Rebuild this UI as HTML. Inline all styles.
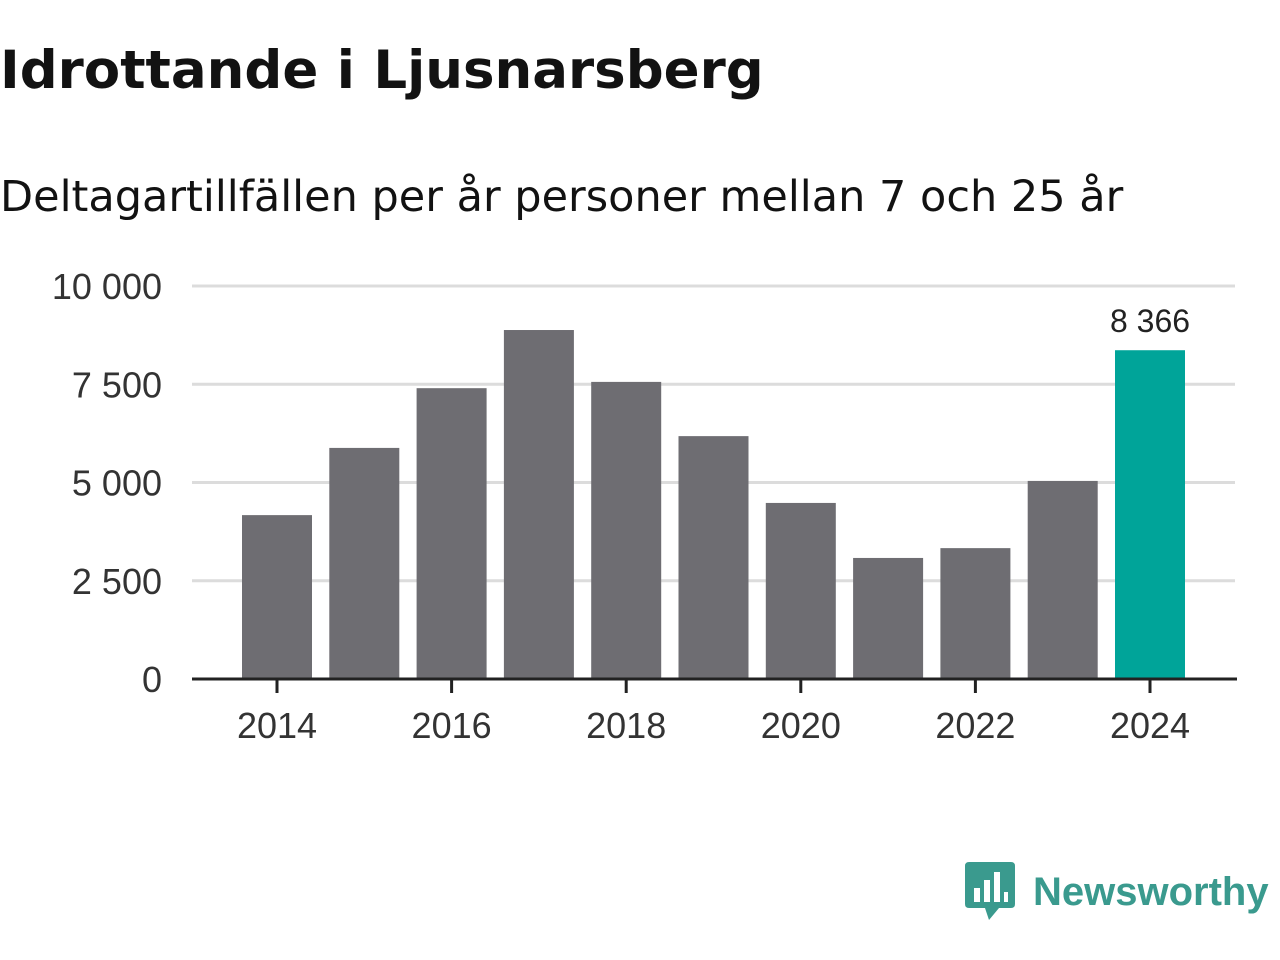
<!DOCTYPE html>
<html><head><meta charset="utf-8"><style>
body{margin:0;width:1280px;height:960px;background:#fff;font-family:"Liberation Sans","DejaVu Sans",sans-serif;overflow:hidden;position:relative}
h1{position:absolute;left:0;top:40px;margin:0;font-family:"DejaVu Sans",sans-serif;font-size:53px;font-weight:bold;color:#121212}
.sub{position:absolute;left:0;top:172px;font-family:"DejaVu Sans",sans-serif;font-size:43px;color:#121212}
svg{position:absolute;left:0;top:0}
.logo{position:absolute;left:965px;top:862px;display:flex;align-items:center}
.logo span{font-size:40px;font-weight:bold;color:#3a9a8e;margin-left:18px}
</style></head><body>
<h1>Idrottande i Ljusnarsberg</h1>
<div class="sub">Deltagartillfällen per år personer mellan 7 och 25 år</div>
<svg id="chart" width="1280" height="960"></svg>
<div class="logo">
<svg width="50" height="60" viewBox="0 0 50 60" style="position:static"><path d="M0 4 Q0 0 4 0 H46 Q50 0 50 4 V42 Q50 46 46 46 H34 L24 58 L20 46 H4 Q0 46 0 42Z" fill="#3a9a8e"/><rect x="9" y="26" width="6" height="14" fill="#fff"/><rect x="19" y="18" width="6" height="22" fill="#fff"/><rect x="29" y="10" width="6" height="30" fill="#fff"/><rect x="39" y="30" width="4" height="10" fill="#fff"/></svg>
<span>Newsworthy</span></div>
<script>
const years=[2014,2015,2016,2017,2018,2019,2020,2021,2022,2023,2024];
const values=[4170,5880,7400,8880,7560,6180,4480,3080,3330,5040,8366];
const yTicks=[0,2500,5000,7500,10000];
const yTickLabels=["0","2 500","5 000","7 500","10 000"];
const xTickYears=[2014,2016,2018,2020,2022,2024];
const highlightLabel="8 366";
const svg=document.getElementById('chart');
const NS='http://www.w3.org/2000/svg';
const y=v=>679-v*0.0393;
const x=yr=>277+(yr-2014)*87.3;
function mk(t,a){const e=document.createElementNS(NS,t);for(const k in a)e.setAttribute(k,a[k]);svg.appendChild(e);return e;}
yTicks.forEach((t,i)=>{
 if(t>0){const g=mk('line',{x1:192,x2:1235,y1:y(t),y2:y(t),stroke:'#dcdcdc','stroke-width':3});
 
 }
 const l=mk('text',{x:162,y:y(t)+13,'text-anchor':'end','font-size':36,fill:'#333','font-family':'Liberation Sans, sans-serif'});
 l.textContent=yTickLabels[i];
 
 
});
years.forEach((yr,i)=>{
 const last=i===years.length-1;
 const r=mk('rect',{x:x(yr)-35,y:y(values[i]),width:70,height:679-y(values[i]),fill:last?'#00a499':'#6e6d72'});
 
 
 if(last){const t=mk('text',{x:x(yr),y:y(values[i])-18,'text-anchor':'middle','font-size':32,fill:'#222','font-family':'Liberation Sans, sans-serif'});
 t.textContent=highlightLabel;
 
 }
});
const ax=mk('line',{x1:192,x2:1237,y1:679,y2:679,stroke:'#222','stroke-width':3});


xTickYears.forEach(yr=>{
 const tk=mk('line',{x1:x(yr),x2:x(yr),y1:679,y2:693,stroke:'#222','stroke-width':3});
 
 
 const t=mk('text',{x:x(yr),y:738,'text-anchor':'middle','font-size':36,fill:'#333','font-family':'Liberation Sans, sans-serif'});
 t.textContent=yr;
 
 
});
</script>
</body></html>
